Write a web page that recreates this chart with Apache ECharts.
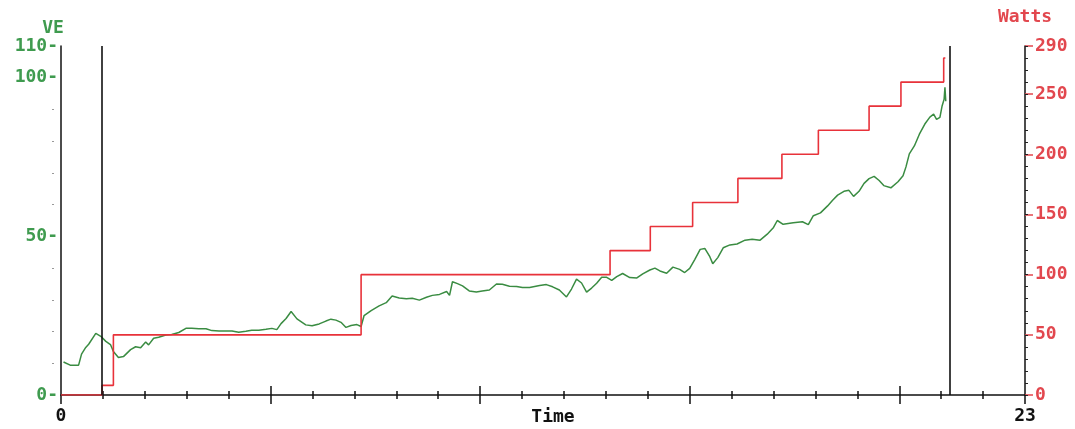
<!DOCTYPE html>
<html>
<head>
<meta charset="utf-8">
<title>VE / Watts</title>
<script src="https://cdn.jsdelivr.net/npm/echarts@6/dist/echarts.min.js"></script>
<style>
  html, body { margin: 0; padding: 0; background: #fff; }
  #chart { width: 1075px; height: 429px; }
</style>
</head>
<body>
<div id="chart"></div>
<script>
// VE trace (minutes, l/min)
var veTime = [0.06,0.22,0.42,0.49,0.59,0.66,0.83,0.95,1.07,1.18,1.25,1.37,1.49,1.66,1.78,1.90,2.02,2.09,2.21,2.33,
  2.50,2.64,2.81,2.98,3.12,3.29,3.46,3.60,3.77,3.93,4.08,4.24,4.41,4.55,4.72,4.89,5.03,5.15,5.25,5.37,
  5.49,5.63,5.84,5.99,6.16,6.32,6.44,6.56,6.68,6.80,6.92,7.06,7.16,7.23,7.40,7.59,7.76,7.90,8.07,8.24,
  8.38,8.55,8.72,8.86,9.03,9.20,9.27,9.34,9.46,9.58,9.74,9.91,10.05,10.22,10.39,10.53,10.70,10.87,11.01,11.18,
  11.42,11.58,11.73,11.89,12.06,12.18,12.30,12.42,12.54,12.66,12.78,12.90,13.02,13.14,13.26,13.40,13.57,13.74,13.88,14.05,
  14.17,14.29,14.45,14.60,14.76,14.88,15.00,15.12,15.25,15.36,15.48,15.55,15.67,15.80,15.96,16.13,16.32,16.49,16.68,16.85,
  17.00,17.09,17.23,17.47,17.69,17.83,17.95,18.12,18.29,18.41,18.53,18.68,18.80,18.91,19.04,19.16,19.28,19.40,19.52,19.63,
  19.80,19.97,20.09,20.16,20.24,20.36,20.48,20.61,20.73,20.82,20.89,20.97,21.02,21.07,21.09,21.11];
var veValues = [10.4,9.4,9.4,12.9,15.0,16.0,19.4,18.5,16.9,15.9,13.7,11.8,12.1,14.3,15.2,14.9,16.7,15.8,17.9,18.2,
  18.9,19.1,19.7,21.0,21.0,20.9,20.9,20.3,20.2,20.2,20.2,19.8,20.1,20.4,20.4,20.7,21.0,20.6,22.5,24.1,
  26.3,24.0,22.1,21.8,22.4,23.3,23.9,23.6,22.9,21.3,21.9,22.2,21.6,25.0,26.6,28.1,29.1,31.2,30.6,30.3,
  30.5,29.9,30.8,31.4,31.7,32.6,31.4,35.7,35.1,34.4,32.8,32.5,32.8,33.1,35.0,34.9,34.3,34.2,33.9,33.9,
  34.5,34.8,34.1,33.1,30.9,33.4,36.5,35.3,32.4,33.7,35.2,37.1,37.1,36.1,37.3,38.3,37.0,36.9,38.2,39.4,
  40.0,39.1,38.4,40.3,39.6,38.6,39.9,42.7,45.9,46.2,43.6,41.4,43.3,46.4,47.3,47.6,48.8,49.1,48.8,50.7,
  52.8,55.0,53.8,54.3,54.6,53.7,56.5,57.4,59.6,61.4,63.0,64.2,64.5,62.6,64.2,66.7,68.2,68.9,67.6,66.0,
  65.3,67.2,69.1,71.9,76.0,78.5,82.2,85.4,87.6,88.5,86.9,87.5,91.0,93.2,97.0,92.6];

// work rate steps: start time of each stage and its load in watts
var stageStart = [0, 0.98, 1.25, 7.16, 13.1, 14.06, 15.07, 16.15, 17.2, 18.07, 19.28, 20.04, 21.06, 21.1];
var stageWatts = [0, 8, 50, 100, 120, 140, 160, 180, 200, 220, 240, 260, 280, 280];

// vertical markers (start / end of test)
var markerTimes = [0.98, 21.2];

var veTicks = [0, 50, 100, 110];
var wattTicks = [0, 50, 100, 150, 200, 250, 290];
var timeLabels = [0, 23];
var timeMajor = [5, 10, 15, 20];
var timeMinor = [1,2,3,4,6,7,8,9,11,12,13,14,16,17,18,19,21,22];

var GREEN = '#3f9b4f';
var RED = '#e2474e';
var FONT = 'DejaVu Sans Mono';

var veData = veTime.map(function (t, i) { return [t, veValues[i]]; });
var wattData = stageStart.map(function (t, i) { return [t, stageWatts[i]]; });

var chart = echarts.init(document.getElementById('chart'));

function tickAxis(values, len, inside) {
  return {
    type: 'value', min: 0, max: 23, position: 'bottom',
    axisLine: { show: false, onZero: false },
    axisTick: { show: true, inside: inside, length: len, customValues: values,
      lineStyle: { color: '#111', width: 1.5 } },
    axisLabel: { show: false },
    splitLine: { show: false }
  };
}

var option = {
  animation: false,
  backgroundColor: '#fff',
  grid: { left: 61, right: 50, top: 46, bottom: 34, outerBoundsMode: 'none' },
  xAxis: [
    {
      type: 'value', min: 0, max: 23, position: 'bottom',
      name: 'Time', nameLocation: 'middle', nameGap: 13, nameMoveOverlap: false,
      nameTextStyle: { color: '#111', fontFamily: FONT, fontWeight: 'bold', fontSize: 18,
        verticalAlign: 'top', padding: [0, 0, 0, 20] },
      axisLine: { show: true, onZero: false, lineStyle: { color: '#111', width: 1.5 } },
      axisTick: { show: true, length: 4, customValues: timeMinor, lineStyle: { color: '#111', width: 1.5 } },
      axisLabel: { customValues: timeLabels, margin: 12, color: '#111', fontFamily: FONT,
        fontSize: 18, fontWeight: 'bold' },
      splitLine: { show: false }
    },
    tickAxis(timeMinor, 4, true),
    tickAxis([0].concat(timeMajor).concat([23]), 9, false),
    tickAxis(timeMajor, 9, true)
  ],
  yAxis: [
    {
      type: 'value', min: 0, max: 110, position: 'left',
      name: 'VE', nameLocation: 'end', nameGap: 3,
      nameTextStyle: { color: GREEN, fontFamily: FONT, fontWeight: 'bold', fontSize: 18,
        align: 'center', padding: [0, 16, 0, 0] },
      axisLine: { show: true, onZero: false, lineStyle: { color: '#111', width: 1.5 } },
      axisTick: { show: false },
      axisLabel: { customValues: veTicks, margin: 3, color: GREEN, fontFamily: FONT,
        fontWeight: 'bold', fontSize: 18, formatter: function (v) { return v + '-'; } },
      splitLine: { show: false }
    },
    {
      type: 'value', min: 0, max: 290, position: 'right',
      name: 'Watts', nameLocation: 'end', nameGap: 20,
      nameTextStyle: { color: RED, fontFamily: FONT, fontWeight: 'bold', fontSize: 18, align: 'center' },
      axisLine: { show: true, onZero: false, lineStyle: { color: '#111', width: 1.5 } },
      axisTick: { show: true, length: 8, customValues: wattTicks, lineStyle: { color: RED, width: 1.5 } },
      axisLabel: { customValues: wattTicks, margin: 10, color: RED, fontFamily: FONT,
        fontWeight: 'bold', fontSize: 18 },
      splitLine: { show: false }
    },
    {
      // faint dots left of the VE axis
      type: 'value', min: 0, max: 110, interval: 10, position: 'left', offset: 7,
      axisLine: { show: false, onZero: false },
      axisTick: { show: true, length: 2, lineStyle: { color: '#999', width: 1 } },
      axisLabel: { show: false },
      splitLine: { show: false }
    },
    {
      // small ticks on the Watts axis
      type: 'value', min: 0, max: 290, interval: 10, position: 'right',
      axisLine: { show: false, onZero: false },
      axisTick: { show: true, length: 3, lineStyle: { color: '#222', width: 1 } },
      axisLabel: { show: false },
      splitLine: { show: false }
    }
  ],
  series: [
    {
      name: 'VE', type: 'line', xAxisIndex: 0, yAxisIndex: 0,
      data: veData, showSymbol: false,
      lineStyle: { color: '#3a8c42', width: 1.5 },
      markLine: {
        silent: true, symbol: 'none', label: { show: false },
        lineStyle: { color: '#111', width: 1.6, type: 'solid' },
        data: markerTimes.map(function (t) { return { xAxis: t }; })
      }
    },
    {
      name: 'Watts', type: 'line', xAxisIndex: 0, yAxisIndex: 1,
      step: 'end', data: wattData, showSymbol: false,
      lineStyle: { color: '#e8323a', width: 1.6 }
    }
  ]
};

chart.setOption(option);
</script>
</body>
</html>
